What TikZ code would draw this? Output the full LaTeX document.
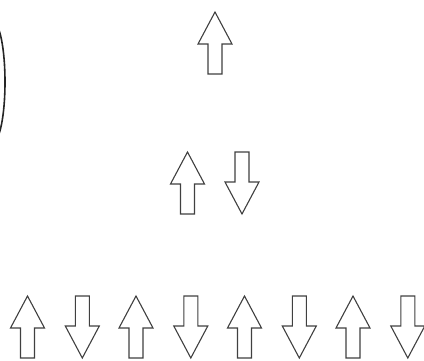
\documentclass[tikz,border=0pt]{standalone}
\tikzset{
  spin/.style={draw=black!75, line width=1.1pt, line join=miter, fill=white},
  rim/.style={draw=black!85, line width=1.6pt},
}
% up arrow: centre x, tip y
\newcommand{\spinup}[2]{%
  \draw[spin] (#1,#2) -- ++(17,32) -- ++(-10,0) -- ++(0,30) -- ++(-14,0) -- ++(0,-30) -- ++(-10,0) -- cycle;}
% down arrow: centre x, top y
\newcommand{\spindown}[2]{%
  \draw[spin] (#1-7,#2) -- ++(14,0) -- ++(0,30) -- ++(10,0) -- (#1,#2+62) -- ++(-17,-32) -- ++(10,0) -- cycle;}
\begin{document}
\begin{tikzpicture}[x=1pt, y=-1pt]
    \useasboundingbox (0,0) rectangle (424,360);
    \begin{scope}
        \clip (0,0) rectangle (424,360);
        \draw[rim] (-7,82) ellipse [x radius=12, y radius=60];
    \end{scope}
    \spinup{215}{12}
    \spinup{187.5}{152}
    \spindown{242}{152}
    \foreach \i in {0,...,3} {
        \spinup{27.5+108.5*\i}{296}
        \spindown{82.3+108.5*\i}{296}
    }
\end{tikzpicture}
\end{document}
